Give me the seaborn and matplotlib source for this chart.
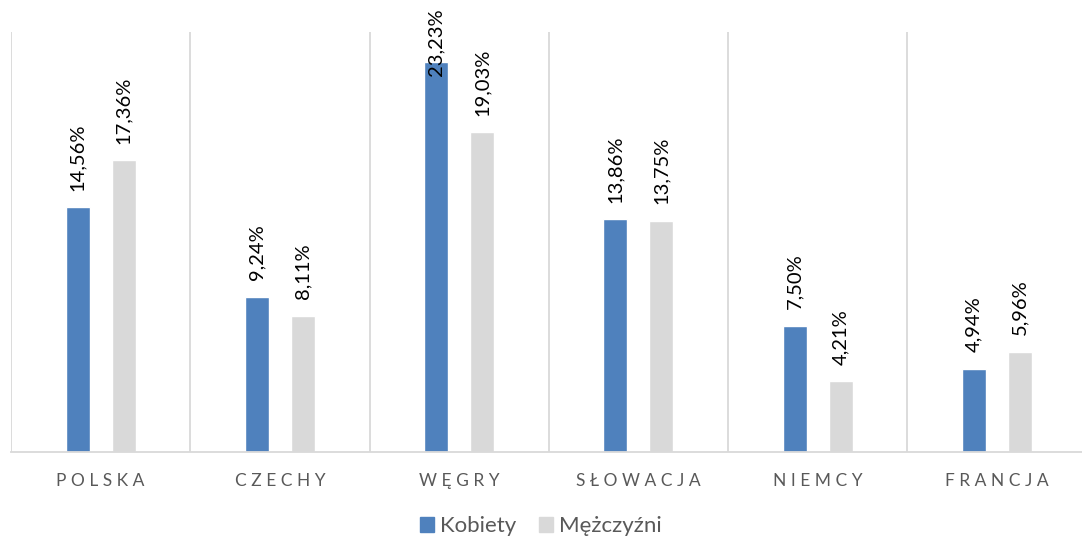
import pandas as pd
import numpy as np
import matplotlib.pyplot as plt
import seaborn as sns

countries = ["POLSKA", "CZECHY", "WĘGRY", "SŁOWACJA", "NIEMCY", "FRANCJA"]
kobiety = [14.56, 9.24, 23.23, 13.86, 7.50, 4.94]
mezczyzni = [17.36, 8.11, 19.03, 13.75, 4.21, 5.96]
groups = ["Kobiety", "Mężczyźni"]

df = pd.DataFrame({
    "kraj": countries * 2,
    "wartosc": kobiety + mezczyzni,
    "plec": [groups[0]] * len(countries) + [groups[1]] * len(countries),
})

sns.set_style("white")
plt.rcParams['font.family'] = ['Lato', 'DejaVu Sans']

fig = plt.figure(figsize=(10.82, 5.41), dpi=100)
ax = fig.add_axes([0.0102, 0.1645, 0.994, 0.7763])

sns.barplot(data=df, x="kraj", y="wartosc", hue="plec", hue_order=groups,
            palette=["#4F81BD", "#D9D9D9"], width=0.513, gap=0.478,
            ax=ax, legend=False, saturation=1)

for i, cont in enumerate(ax.containers):
    vals = kobiety if i == 0 else mezczyzni
    texts = ax.bar_label(cont, labels=[f"{v:.2f}%".replace(".", ",") for v in vals],
                         rotation=90, padding=12, fontsize=14.5, color="black")
    if i == 0:
        # label of the highest bar does not fit above it, so it overlaps the bar
        texts[2].xyann = (0, -10)

for x in np.arange(-0.5, len(countries), 1.0):
    ax.axvline(x, color="#D9D9D9", lw=1.3, zorder=0)

ax.set_ylim(0, 25)
ax.set_xlim(-0.5, len(countries) - 0.5)
ax.set_yticks([])
ax.set_xlabel("")
ax.set_ylabel("")
for s in ["top", "right", "left"]:
    ax.spines[s].set_visible(False)
ax.spines["bottom"].set_color("#D9D9D9")
ax.spines["bottom"].set_linewidth(1.3)
ax.set_xticks(range(len(countries)))
ax.set_xticklabels([" ".join(c) for c in countries], fontsize=12.5, color="#595959")
ax.tick_params(axis="x", length=0, pad=15)

handles = [plt.Rectangle((0, 0), 1, 1, color=c) for c in ["#4F81BD", "#D9D9D9"]]
fig.legend(handles, groups, loc="lower center", ncol=2, frameon=False,
           bbox_to_anchor=(0.5, -0.028), fontsize=16, handlelength=0.62,
           handleheight=0.62, handletextpad=0.3, columnspacing=1.0,
           labelcolor="#595959")

fig.savefig("out.png", dpi=100)
